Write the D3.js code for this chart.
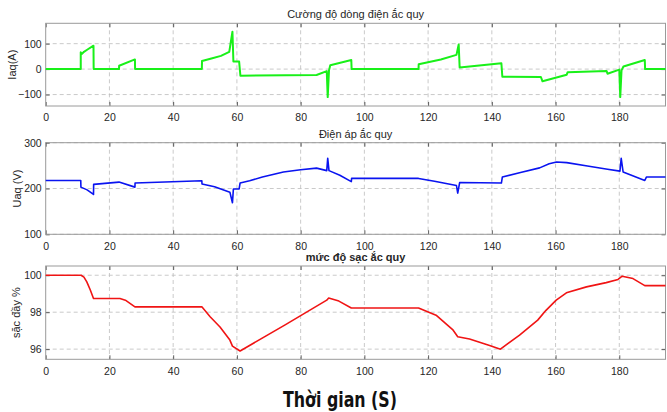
<!DOCTYPE html>
<html><head><meta charset="utf-8">
<script src="https://cdn.jsdelivr.net/npm/d3@7"></script>
<style>
body{margin:0;background:#fff;}
svg{display:block;font-family:"Liberation Sans",Arial,sans-serif;}
</style></head>
<body>
<svg id="c" width="667" height="412"></svg>
<script>
// ---- data ----
const xTicks = [0,20,40,60,80,100,120,140,160,180];
const xDomain = [0,194.5];

const curT = [0,11,11,11.4,12,13,15,15.05,23,23.05,28,28.05,49,49.05,52,55,57.6,58.6,58.9,60.7,61.1,85,88.2,88.5,88.9,89.3,95.9,96,117,117.05,124,128.9,129.6,129.9,143,143.3,155.4,155.9,163.5,163.8,176,176.3,180,180.3,180.7,181.3,188,188.1,194.5];
const curV = [0,0,66,60,68,76,92,0,0,13,38,0,0,32,42,52,68,147,30,30,-26,-23,-8,-110,-5,15,36,0,0,19,38,56,97,6,23,-30,-31,-48,-22,-12,-7,-18,-2,-110,-5,10,36,0,0];
const curTicks = [-100,0,100];
const curDomain = [-145,180];

const voltT = [0,11,11.05,13,15,15.05,23,28,28.05,49,49.05,53,57.8,58.6,58.9,60.7,61,64,68,74.6,80,85,88.2,88.5,88.9,92.3,95.9,96,117,122,128.9,129.3,129.9,143,143.3,149,155,158,160.3,163.5,170,176.3,180.2,180.6,181.2,188,188.5,194.5];
const voltV = [217.5,217.5,203,197,187,209,214,203,212,217,210,204,192,169,199,199,212,217,225,236,241,244.5,239,266,239,229,215,222,222,216,206.5,190,213,212,225,235,245,254,257.7,256.5,249,242,238,266,236,217.5,225,225];
const voltTicks = [100,200,300];
const voltDomain = [100,300];

const socT = [0,11.1,12,12.9,14,15,23.3,25,28,49,51.6,54.7,57.8,58.6,61,75,88.2,88.8,92,95.9,117,122.5,127.7,129.3,133,139.3,142.7,148.7,154.4,157,160.2,163.4,169.7,175.9,179.6,180.9,184.3,188,194.5];
const socV = [100,100,99.9,99.64,99.2,98.74,98.74,98.65,98.29,98.29,97.75,97.2,96.49,96.16,95.9,97.3,98.65,98.77,98.6,98.23,98.23,97.84,97.06,96.67,96.55,96.2,96.0,96.76,97.57,98.1,98.65,99.05,99.37,99.6,99.77,99.95,99.82,99.44,99.44];
const socTicks = [96,98,100];
const socDomain = [95.45,100.5];

// ---- drawing ----
const svg = d3.select("#c");
const L = 45.7, R = 665.5;
const x = d3.scaleLinear().domain(xDomain).range([L,R]);
const fmt = d3.format("d");

function panel(cfg){
  const y = d3.scaleLinear().domain(cfg.domain).range([cfg.bottom,cfg.top]);
  const g = svg.append("g");
  g.selectAll(".gx").data(xTicks.filter(d=>d>0)).join("line")
    .attr("x1",d=>x(d)).attr("x2",d=>x(d)).attr("y1",cfg.top).attr("y2",cfg.bottom)
    .attr("stroke","#bdbdbd").attr("stroke-width",0.8).attr("stroke-dasharray","4,3");
  g.selectAll(".gy").data(cfg.ticks).join("line")
    .attr("x1",L).attr("x2",R).attr("y1",d=>y(d)).attr("y2",d=>y(d))
    .attr("stroke","#bdbdbd").attr("stroke-width",0.8).attr("stroke-dasharray","4,3");
  const axg = g.append("g").attr("transform",`translate(0,${cfg.bottom})`)
    .call(d3.axisBottom(x).tickValues(xTicks).tickFormat(fmt).tickSizeInner(-4).tickSizeOuter(0).tickPadding(8));
  const ayg = g.append("g").attr("transform",`translate(${L},0)`)
    .call(d3.axisLeft(y).tickValues(cfg.ticks).tickFormat(fmt).tickSizeInner(-4).tickSizeOuter(0).tickPadding(4));
  const ayrg = g.append("g").attr("transform",`translate(${R},0)`)
    .call(d3.axisRight(y).tickValues(cfg.ticks).tickSizeInner(-4).tickSizeOuter(0).tickFormat(""));
  const axtg = g.append("g").attr("transform",`translate(0,${cfg.top})`)
    .call(d3.axisTop(x).tickValues(xTicks).tickSizeInner(-4).tickSizeOuter(0).tickFormat(""));
  [axg,ayg,ayrg,axtg].forEach(a=>{
    a.select(".domain").remove();
    a.selectAll("line").attr("stroke","#333").attr("stroke-width",0.8);
    a.selectAll("text").attr("fill","#262626").style("font-size","10.5px");
  });
  g.append("rect").attr("x",L).attr("y",cfg.top).attr("width",R-L).attr("height",cfg.bottom-cfg.top)
    .attr("fill","none").attr("stroke","#9a9a9a").attr("stroke-width",1);
  const pts = cfg.t.map((t,i)=>[t,cfg.v[i]]);
  g.append("path").datum(pts)
    .attr("d",d3.line().x(d=>x(d[0])).y(d=>y(d[1])))
    .attr("fill","none").attr("stroke",cfg.color).attr("stroke-width",cfg.lw).attr("stroke-linejoin","round");
  g.append("text").attr("x",(L+R)/2).attr("y",cfg.top-5).attr("text-anchor","middle")
    .attr("fill","#262626").style("font-size","11px").style("font-weight",cfg.bold?"bold":"normal").text(cfg.title);
  g.append("text").attr("transform",`translate(${cfg.ylx},${(cfg.top+cfg.bottom)/2}) rotate(-90)`)
    .attr("text-anchor","middle").attr("fill","#262626").style("font-size","11px").text(cfg.ylabel);
}

panel({t:curT,v:curV,domain:curDomain,ticks:curTicks,top:23.3,bottom:106,color:"#19f019",lw:2,title:"Cường độ dòng điện ắc quy",ylabel:"Iaq(A)",ylx:16});
panel({t:voltT,v:voltV,domain:voltDomain,ticks:voltTicks,top:142.7,bottom:234.3,color:"#0a14f0",lw:1.6,title:"Điện áp ắc quy",ylabel:"Uaq (V)",ylx:21});
panel({t:socT,v:socV,domain:socDomain,ticks:socTicks,top:266,bottom:359.3,color:"#f01414",lw:1.6,title:"mức độ sạc ắc quy",bold:true,ylabel:"sặc đầy %",ylx:20});

svg.append("text").attr("x",340).attr("y",407).attr("text-anchor","middle")
  .attr("textLength",114).attr("lengthAdjust","spacingAndGlyphs")
  .style("font-family","'DejaVu Sans Condensed','Liberation Sans',sans-serif")
  .style("font-weight","bold").style("font-size","21px").attr("fill","#111").text("Thời gian (S)");
</script>
</body></html>
